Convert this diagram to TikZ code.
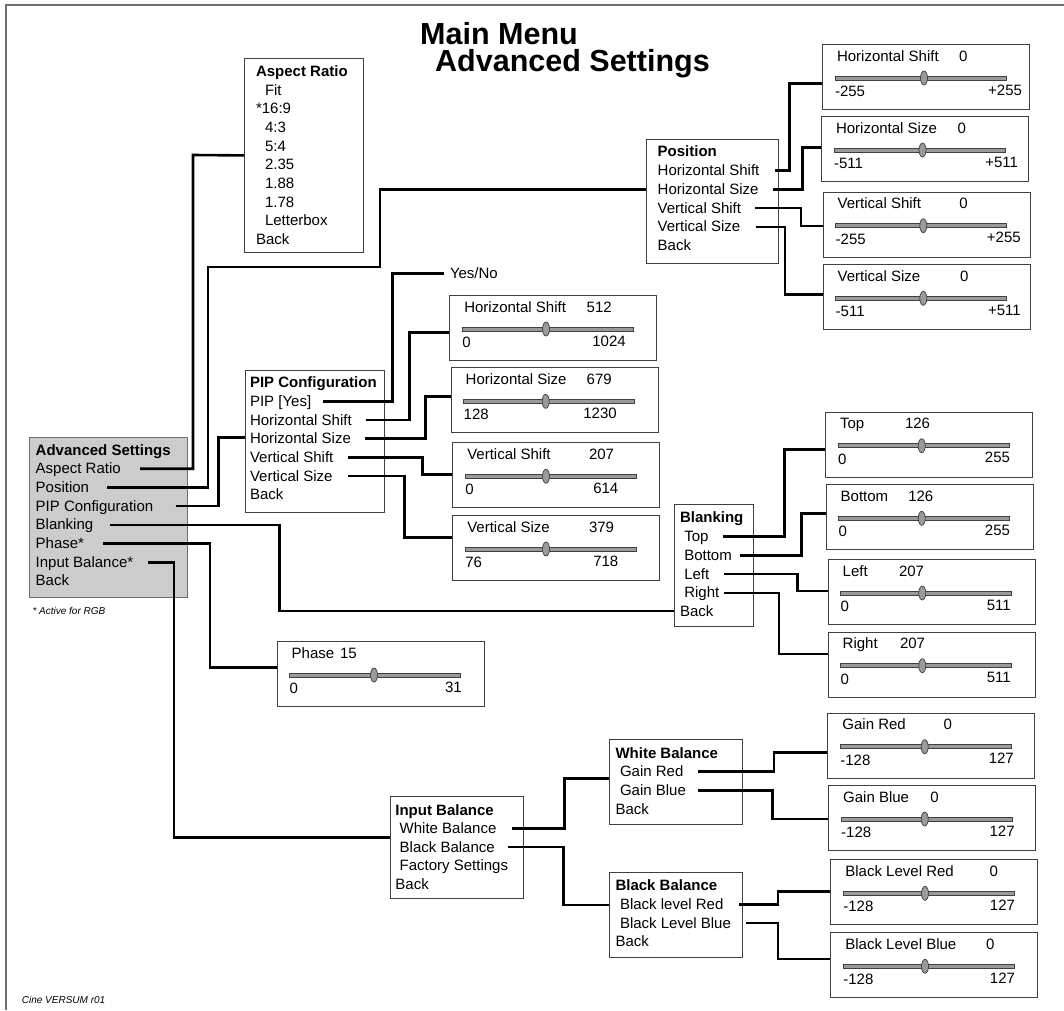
\documentclass[tikz,border=0pt]{standalone}
\usepackage{fontspec}
\setmainfont{Liberation Sans}
\definecolor{boxc}{HTML}{404040}
\definecolor{framec}{HTML}{6E6E6E}
\definecolor{grayfill}{HTML}{CCCCCC}
\definecolor{barfill}{HTML}{9A9A9A}
\tikzset{
  conn/.style={line width=2.6pt, black},
  item/.style={inner sep=0pt, outer sep=0pt, text height=10pt, text depth=0pt, anchor=west, font=\fontsize{15}{18}\selectfont},
  hd/.style={item, font=\fontsize{15}{18}\selectfont\bfseries},
  menubox/.style={draw=boxc, line width=0.8pt, inner sep=0pt, anchor=north west},
  sbox/.style={draw=boxc, line width=0.8pt, inner sep=0pt, anchor=north west, minimum width=207pt, minimum height=65pt},
  barst/.style={fill=barfill, draw=boxc, line width=0.6pt},
  knobst/.style={fill=barfill, draw=boxc, line width=0.7pt},
  note/.style={inner sep=0pt, anchor=west, font=\fontsize{10}{12}\selectfont\itshape},
  titlest/.style={inner sep=0pt, anchor=base west, font=\fontsize{30.5}{33}\selectfont\bfseries}
}
\newcommand{\sliderbox}[9]{%
\begin{scope}[shift={(#2)}]
\node[sbox] (#1) at (0,0) {};
\node[item] at (15,12) {#3};
\node[item] at (#4,12) {#5};
\filldraw[barst] (13,32) rectangle (184,36);
\filldraw[knobst] (#9,34) ellipse (3.5pt and 7pt);
\node[item] at (13,47.5) {#6};
\node[item,anchor=east] at (#8,46) {#7};
\end{scope}}
\begin{document}
\begin{tikzpicture}[x=1pt,y=-1pt]
\useasboundingbox (0,0) rectangle (1064,1010);
\fill[white] (0,0) rectangle (1064,1010);
\draw[framec, line width=1.2pt] (6,1010) -- (6,5) -- (1064,5);

% title
\node[titlest] (t1) at (420,44.3) {Main Menu};
\node[titlest] (t2) at (435,71.7) {Advanced Settings};

% Advanced Settings menu
\node[menubox, fill=grayfill, draw=framec, minimum width=157.7pt, minimum height=160pt] (ad) at (29,436.7) {};
\node[hd] (adT) at (35.7,450) {Advanced Settings};
\node[item] (adAR) at (35.7,468.7) {Aspect Ratio};
\node[item] (adPos) at (35.7,487.4) {Position};
\node[item] (adPIP) at (35.7,506.1) {PIP Configuration};
\node[item] (adBl) at (35.7,524.8) {Blanking};
\node[item] (adPh) at (35.7,543.5) {Phase*};
\node[item] (adIB) at (35.7,562.2) {Input Balance*};
\node[item] (adB) at (35.7,580.9) {Back};
\node[note] (fn) at (32.3,610.7) {* Active for RGB};
\node[note] (cv) at (21.7,1000) {Cine VERSUM r01};

% Aspect Ratio menu
\node[menubox, minimum width=119pt, minimum height=194pt] (ar) at (244,58) {};
\node[hd] (arT) at (256,71) {Aspect Ratio};
\node[item] (ar1) at (265,90) {Fit};
\node[item] (ar2) at (256,108.7) {*16:9};
\node[item] (ar3) at (265,127.4) {4:3};
\node[item] (ar4) at (265,146.1) {5:4};
\node[item] (ar5) at (265,164.8) {2.35};
\node[item] (ar6) at (265,183.5) {1.88};
\node[item] (ar7) at (265,202.2) {1.78};
\node[item] (ar8) at (265,220.9) {Letterbox};
\node[item] (ar9) at (256,239.6) {Back};

% Position menu
\node[menubox, minimum width=132.3pt, minimum height=124.3pt] (po) at (645.7,139) {};
\node[hd] (poT) at (657.7,151.7) {Position};
\node[item] (poHS) at (657.7,170.5) {Horizontal Shift};
\node[item] (poHZ) at (657.7,189.3) {Horizontal Size};
\node[item] (poVS) at (657.7,208) {Vertical Shift};
\node[item] (poVZ) at (657.7,226.8) {Vertical Size};
\node[item] (poB) at (657.7,245.6) {Back};

% PIP menu
\node[menubox, minimum width=139pt, minimum height=141.7pt] (pi) at (245,370) {};
\node[hd] (piT) at (250,382.7) {PIP Configuration};
\node[item] (piPIP) at (250,401.4) {PIP [Yes]};
\node[item] (piHS) at (250,420) {Horizontal Shift};
\node[item] (piHZ) at (250,438.7) {Horizontal Size};
\node[item] (piVS) at (250,457.4) {Vertical Shift};
\node[item] (piVZ) at (250,476) {Vertical Size};
\node[item] (piB) at (250,494.7) {Back};
\node[item] (yn) at (450,273.3) {Yes/No};

% Blanking menu
\node[menubox, minimum width=79pt, minimum height=121.4pt] (bl) at (674.3,504.3) {};
\node[hd] (blT) at (680,517.7) {Blanking};
\node[item] (blTop) at (684.3,536.5) {Top};
\node[item] (blBot) at (684.3,555.3) {Bottom};
\node[item] (blL) at (684.3,574) {Left};
\node[item] (blR) at (684.3,592.8) {Right};
\node[item] (blB) at (680,611.6) {Back};

% Input Balance menu
\node[menubox, minimum width=132.9pt, minimum height=102.3pt] (ib) at (389.6,796) {};
\node[hd] (ibT) at (395.4,810) {Input Balance};
\node[item] (ibWB) at (399.7,828.5) {White Balance};
\node[item] (ibBB) at (399.7,847) {Black Balance};
\node[item] (ibFS) at (399.7,865.5) {Factory Settings};
\node[item] (ibB) at (395.4,884) {Back};

% White Balance menu
\node[menubox, minimum width=132.9pt, minimum height=85pt] (wb) at (609.4,739.3) {};
\node[hd] (wbT) at (615.5,753.3) {White Balance};
\node[item] (wbGR) at (620,771.7) {Gain Red};
\node[item] (wbGB) at (620,790.3) {Gain Blue};
\node[item] (wbB) at (615.5,809) {Back};

% Black Balance menu
\node[menubox, minimum width=132.8pt, minimum height=85pt] (bb) at (609,871.7) {};
\node[hd] (bbT) at (615.5,885.7) {Black Balance};
\node[item] (bbR) at (620,904.3) {Black level Red};
\node[item] (bbBl) at (620,923) {Black Level Blue};
\node[item] (bbB) at (615.5,941.7) {Back};

% slider boxes
\sliderbox{p1}{822,44}{Horizontal Shift}{137}{0}{-255}{+255}{200}{102}
\sliderbox{p2}{821,116}{Horizontal Size}{136.5}{0}{-511}{+511}{197}{101.5}
\sliderbox{p3}{822.7,191.7}{Vertical Shift}{136.6}{0}{-255}{+255}{198}{100.6}
\sliderbox{p4}{822.7,264.3}{Vertical Size}{137.3}{0}{-511}{+511}{198}{100.6}
\sliderbox{q1}{449.3,295}{Horizontal Shift}{137.4}{512}{0}{1024}{176.4}{96.7}
\sliderbox{q2}{450.7,367.3}{Horizontal Size}{136}{679}{128}{1230}{166}{95}
\sliderbox{q3}{452.3,442.3}{Vertical Shift}{136.7}{207}{0}{614}{166}{93.7}
\sliderbox{q4}{452.3,515}{Vertical Size}{136.7}{379}{76}{718}{166}{93.7}
\sliderbox{ph}{276.7,641}{Phase}{63.3}{15}{0}{31}{185}{97.3}
\sliderbox{b1}{825,411.7}{Top}{80}{126}{0}{255}{185}{96.7}
\sliderbox{b2}{825.7,484.3}{Bottom}{82.6}{126}{0}{255}{184.3}{96}
\sliderbox{b3}{827.7,559}{Left}{71.3}{207}{0}{511}{183}{94.6}
\sliderbox{b4}{827.7,631.7}{Right}{72.3}{207}{0}{511}{183}{94.6}
\sliderbox{g1}{827.4,712.7}{Gain Red}{116.2}{0}{-128}{127}{186.4}{97.3}
\sliderbox{g2}{828.2,785}{Gain Blue}{102.2}{0}{-128}{127}{186.4}{96.5}
\sliderbox{g3}{830.4,859.3}{Black Level Red}{159.2}{0}{-128}{127}{184.6}{94.6}
\sliderbox{g4}{830.4,932.3}{Black Level Blue}{155.7}{0}{-128}{127}{184.6}{94.6}

% connectors from Advanced Settings
\draw[conn] (140,0 |- adAR.west) -| (193,155) -- (ar.west);
\draw[conn] (106.7,0 |- adPos.west) -| (208,267) -| (380,189.3) -- (po.west |- 0,189.3);
\draw[conn] (175.7,0 |- adPIP.west) -| (218.3,437.7) -- (pi.west |- 0,437.7);
\draw[conn] (110,0 |- adBl.west) -| (279.3,611) -- (bl.west |- 0,611);
\draw[conn] (103.3,0 |- adPh.west) -| (210,667.3) -- (ph.west |- 0,667.3);
\draw[conn] (148.3,0 |- adIB.west) -| (174,837.3) -- (ib.west |- 0,837.3);

% PIP connectors
\draw[conn] (323.3,0 |- piPIP.west) -| (392.7,273.3) -- ([xshift=-6pt]yn.west);
\draw[conn] (365.7,0 |- piHS.west) -| (409.3,332.5) -- (q1.west |- 0,332.5);
\draw[conn] (365,0 |- piHZ.west) -| (425.7,396.5) -- (q2.west |- 0,396.5);
\draw[conn] (348.3,0 |- piVS.west) -| (422.3,474.2) -- (q3.west |- 0,474.2);
\draw[conn] (348.3,0 |- piVZ.west) -| (404.3,537.3) -- (q4.west |- 0,537.3);

% Position connectors
\draw[conn] (775,0 |- poHS.west) -| (789.5,83.3) -- (p1.west |- 0,83.3);
\draw[conn] (772.7,0 |- poHZ.west) -| (802.7,147.7) -- (p2.west |- 0,147.7);
\draw[conn] (755,0 |- poVS.west) -| (801,226) -- (p3.west |- 0,226);
\draw[conn] (756,0 |- poVZ.west) -| (785,294.3) -- (p4.west |- 0,294.3);

% Blanking connectors
\draw[conn] (723.3,0 |- blTop.west) -| (784.3,449.3) -- (b1.west |- 0,449.3);
\draw[conn] (740,0 |- blBot.west) -| (801.7,513.3) -- (b2.west |- 0,513.3);
\draw[conn] (724,0 |- blL.west) -| (797.7,591) -- (b3.west |- 0,591);
\draw[conn] (724,0 |- blR.west) -| (779,654) -- (b4.west |- 0,654);

% Input Balance connectors
\draw[conn] (511.6,0 |- ibWB.west) -| (564.2,778.3) -- (wb.west |- 0,778.3);
\draw[conn] (508,0 |- ibBB.west) -| (563.3,905) -- (bb.west |- 0,905);
\draw[conn] (698,0 |- wbGR.west) -| (773.9,752.3) -- (g1.west |- 0,752.3);
\draw[conn] (698,0 |- wbGB.west) -| (772.5,819) -- (g2.west |- 0,819);
\draw[conn] (738.8,0 |- bbR.west) -| (777.8,891.7) -- (g3.west |- 0,891.7);
\draw[conn] (746.2,0 |- bbBl.west) -| (777.8,959) -- (g4.west |- 0,959);
\end{tikzpicture}
\end{document}
